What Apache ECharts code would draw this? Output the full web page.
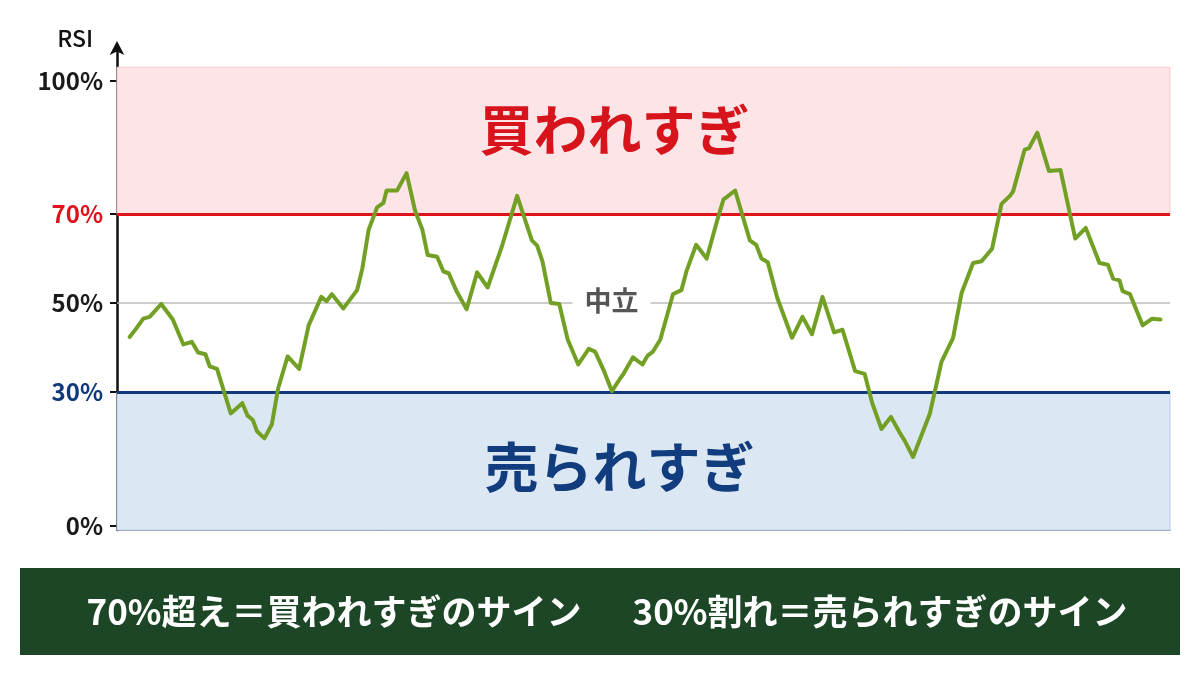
<!DOCTYPE html>
<html>
<head>
<meta charset="utf-8">
<script src="https://cdn.jsdelivr.net/npm/echarts@6/dist/echarts.min.js"></script>
<style>
html,body{margin:0;padding:0;background:#fff;}
#chart{width:1200px;height:675px;}
</style>
</head>
<body>
<div id="chart"></div>
<script>
// ---- data ----
var days = [1.2,1.8,2.5,3.1,4.2,5.3,6.3,7.1,7.7,8.4,8.8,9.5,10.8,11.9,12.4,12.9,13.3,14.0,14.7,15.3,
  16.2,17.3,18.2,19.4,19.9,20.4,21.5,22.8,23.3,23.9,24.7,25.3,25.6,26.6,27.5,28.3,29.0,29.5,30.4,31.0,
  31.5,32.2,33.2,34.2,35.2,36.6,38.0,39.4,39.9,40.4,41.2,42.0,42.8,43.8,44.8,45.4,46.2,47.0,47.8,48.1,
  49.0,49.9,50.4,50.9,51.6,52.8,53.6,54.1,55.0,56.0,57.0,57.6,57.9,58.7,60.1,60.7,61.2,61.8,62.7,64.1,
  65.1,66.0,67.0,68.1,68.9,70.1,71.0,71.7,72.6,73.5,74.5,74.8,75.6,77.2,78.3,79.4,80.2,81.3,82.1,83.1,
  84.0,84.8,85.1,86.2,86.6,87.4,88.5,89.6,90.2,91.0,92.0,93.3,94.1,94.6,95.2,95.5,96.2,97.4,98.3,99.1];
var rsi = [42.4,44.2,46.5,46.9,49.8,46.3,40.7,41.3,38.9,38.5,35.8,35.2,25.2,27.5,24.7,23.7,21.2,19.6,22.7,30.8,
  38.0,35.2,45.0,51.4,50.4,52.0,48.8,52.9,57.8,66.5,71.5,72.5,75.3,75.3,79.2,70.8,66.5,60.8,60.4,57.1,
  56.7,52.9,48.6,56.9,53.5,63.1,74.1,64.1,62.9,59.4,50.0,49.8,41.8,36.2,39.7,39.1,35.0,30.2,33.1,34.1,
  37.8,36.2,38.2,39.1,41.8,52.0,52.9,57.3,63.1,60.0,68.6,73.3,73.8,75.3,64.1,63.1,60.0,59.2,51.2,42.2,
  46.9,43.0,51.4,43.4,44.0,34.7,34.1,27.7,21.7,24.4,20.2,19.1,15.4,25.2,36.8,42.2,52.2,59.0,59.4,62.2,
  72.3,74.1,75.1,84.5,84.8,88.3,79.7,79.9,73.3,64.5,66.9,59.0,58.6,55.5,55.1,52.7,52.0,45.0,46.5,46.3];
var yTicks = [0, 30, 50, 70, 100];
var overbought = 70, neutral = 50, oversold = 30;
var overLabel = '買われすぎ', underLabel = '売られすぎ', neutralLabel = '中立';
var bannerLeft = '70%超え＝買われすぎのサイン';
var bannerRight = '30%割れ＝売られすぎのサイン';

var seriesData = days.map(function (d, i) { return [d, rsi[i]]; });

var FONT = '"Noto Sans CJK JP", "Noto Sans", sans-serif';
var chart = echarts.init(document.getElementById('chart'));
chart.setOption({
  animation: false,
  backgroundColor: '#ffffff',
  grid: { left: 117, right: 30, top: 45, bottom: 145 },
  xAxis: {
    type: 'value', min: 0, max: 100,
    axisLine: { show: true, onZero: false, lineStyle: { color: '#5470a0', width: 1.5 } },
    axisTick: { show: false }, axisLabel: { show: false }, splitLine: { show: false }
  },
  yAxis: {
    type: 'value', min: -1, max: 108,
    name: 'RSI', nameLocation: 'end', nameGap: -5,
    nameTextStyle: { fontFamily: FONT, fontSize: 23, fontWeight: 500, color: '#111', align: 'right', padding: [0, 24, 0, 0] },
    axisLine: { show: true, onZero: false, symbol: ['none', 'arrow'], symbolSize: [11, 14], symbolOffset: [0, 4],
      lineStyle: { color: '#111', width: 2.5 } },
    axisTick: { show: true, customValues: yTicks, length: 7, lineStyle: { color: '#111', width: 2 } },
    axisLabel: {
      customValues: yTicks, margin: 14, fontFamily: FONT, fontSize: 24, fontWeight: 'bold',
      formatter: function (v) { return v + '%'; },
      color: function (v) { v = Number(v); return v === 70 ? '#e0131d' : (v === 30 ? '#0e3a7c' : '#1a1a1a'); }
    },
    splitLine: { show: false }
  },
  series: [{
    type: 'line',
    data: seriesData,
    showSymbol: false,
    smooth: false,
    z: 5,
    lineStyle: { color: '#72a024', width: 4, cap: 'round', join: 'round' },
    markArea: {
      silent: true,
      data: [
        [{ yAxis: overbought, itemStyle: { color: '#fde4e7', borderColor: '#f6c9ce', borderWidth: 1 },
           label: { show: true, formatter: overLabel, position: 'inside', offset: [-29, -10],
             fontFamily: FONT, fontSize: 54, fontWeight: 'bold', color: '#d7141c' } },
         { yAxis: 103 }],
        [{ yAxis: -1, itemStyle: { color: '#dce7f4', borderColor: '#b9cbe4', borderWidth: 1 },
           label: { show: true, formatter: underLabel, position: 'inside', offset: [-24, 6],
             fontFamily: FONT, fontSize: 54, fontWeight: 'bold', color: '#113d7e' } },
         { yAxis: oversold }]
      ]
    },
    markLine: {
      silent: true, symbol: ['none', 'none'],
      data: [
        { yAxis: overbought, lineStyle: { color: '#e0131d', width: 3, type: 'solid' }, label: { show: false } },
        { yAxis: oversold, lineStyle: { color: '#0e3a7c', width: 3, type: 'solid' }, label: { show: false } },
        { yAxis: neutral, lineStyle: { color: '#bdbdbd', width: 1.5, type: 'solid' },
          label: { show: true, position: 'middle', formatter: neutralLabel, offset: [-32, 18],
            fontFamily: FONT, fontSize: 27, fontWeight: 'bold', color: '#555',
            backgroundColor: '#ffffff', padding: [2, 12, 2, 12] } }
      ]
    }
  }],
  graphic: [
    { type: 'rect', left: 20, top: 568, shape: { width: 1160, height: 87 }, style: { fill: '#1d4626' }, z: 0 },
    { type: 'text', x: 334, y: 612, style: { text: bannerLeft, fill: '#ffffff', font: 'bold 35px ' + FONT,
        textAlign: 'center', textVerticalAlign: 'middle' }, z: 1 },
    { type: 'text', x: 880, y: 612, style: { text: bannerRight, fill: '#ffffff', font: 'bold 35px ' + FONT,
        textAlign: 'center', textVerticalAlign: 'middle' }, z: 1 }
  ]
});
</script>
</body>
</html>
